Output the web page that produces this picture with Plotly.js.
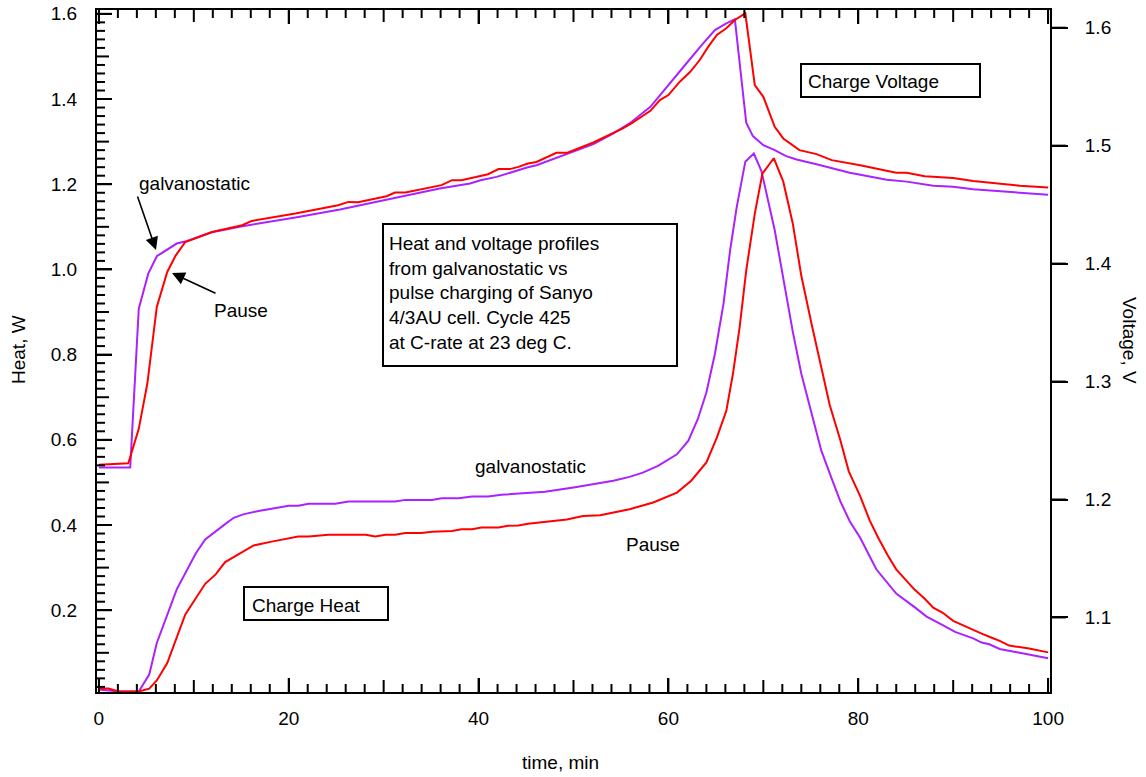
<!DOCTYPE html>
<html>
<head>
<meta charset="utf-8">
<script src="https://cdn.plot.ly/plotly-3.0.1.min.js"></script>
<style>html,body{margin:0;padding:0;background:#fff;}#chart{width:1146px;height:777px;}</style>
</head>
<body>
<div id="chart"></div>
<script>
// ---------------- data ----------------
var galvVoltTime = [0, 3.3, 4.2, 5.2, 6.1, 8.2, 9.3, 11.9, 15.1, 20.7, 25.4, 30.3, 35.9, 39.1, 40.2, 41.9, 43.0, 44.0, 45.1, 46.1, 48.9, 52.1, 54.2, 55.9, 58.1, 59.8, 61.6, 63.5, 64.9, 66.1, 67.0, 68.2, 68.9, 70.0, 71.2, 72.4, 73.5, 75.6, 77.3, 79.1, 83.0, 85.1, 87.9, 90.0, 92.1, 94.9, 97.0, 100];
var galvVolt = [1.2271, 1.2271, 1.3618, 1.3915, 1.4062, 1.4170, 1.4192, 1.4266, 1.4317, 1.4390, 1.4458, 1.4543, 1.4637, 1.4679, 1.4707, 1.4735, 1.4764, 1.4784, 1.4815, 1.4834, 1.4919, 1.5013, 1.5104, 1.5188, 1.5329, 1.5499, 1.5669, 1.5853, 1.5980, 1.6037, 1.6071, 1.5194, 1.5081, 1.5004, 1.4962, 1.4911, 1.4883, 1.4843, 1.4806, 1.4770, 1.4711, 1.4695, 1.4660, 1.4651, 1.4631, 1.4615, 1.4601, 1.4583];

var pauseVoltTime = [0, 3.1, 4.2, 5.1, 6.1, 7.2, 8.1, 9.1, 11.9, 15.1, 16.1, 20.7, 25.2, 26.3, 27.3, 30.3, 31.2, 32.3, 36.1, 37.2, 38.2, 41.0, 42.1, 43.3, 44.2, 45.2, 46.1, 48.2, 49.3, 52.1, 54.2, 55.2, 56.1, 58.1, 59.1, 60.0, 61.2, 62.3, 63.3, 64.2, 65.1, 66.1, 67.0, 68.1, 69.1, 70.0, 71.2, 72.1, 73.8, 75.6, 77.2, 79.1, 80.2, 84.0, 85.1, 87.0, 90.0, 92.1, 94.9, 97.0, 100];
var pauseVolt = [1.2294, 1.2307, 1.2599, 1.2981, 1.3632, 1.3929, 1.4070, 1.4183, 1.4268, 1.4325, 1.4362, 1.4424, 1.4495, 1.4523, 1.4520, 1.4571, 1.4603, 1.4603, 1.4665, 1.4707, 1.4707, 1.4758, 1.4801, 1.4801, 1.4820, 1.4849, 1.4862, 1.4939, 1.4939, 1.5027, 1.5109, 1.5146, 1.5188, 1.5295, 1.5386, 1.5429, 1.5542, 1.5626, 1.5726, 1.5839, 1.5938, 1.5995, 1.6065, 1.6122, 1.5514, 1.5414, 1.5160, 1.5061, 1.4962, 1.4928, 1.4877, 1.4849, 1.4834, 1.4770, 1.4770, 1.4740, 1.4725, 1.4701, 1.4675, 1.4660, 1.4645];

var galvHeatTime = [0, 2.1, 4.2, 5.3, 6.1, 8.2, 10.2, 11.2, 13.3, 14.2, 15.2, 16.8, 20.0, 21.0, 22.1, 24.9, 26.3, 31.2, 32.3, 35.1, 36.1, 37.9, 39.3, 41.0, 42.4, 44.9, 45.9, 47.0, 50.0, 52.1, 54.2, 55.9, 57.3, 58.9, 60.9, 62.1, 63.1, 64.0, 64.9, 65.8, 66.5, 67.2, 68.1, 69.0, 69.8, 71.2, 72.3, 73.1, 74.0, 75.1, 76.1, 77.2, 78.1, 79.1, 80.2, 81.9, 84.0, 86.0, 87.2, 88.9, 90.2, 92.1, 93.0, 93.8, 94.9, 97.0, 100];
var galvHeat = [0.014, 0.009, 0.009, 0.049, 0.123, 0.249, 0.333, 0.366, 0.402, 0.417, 0.425, 0.433, 0.445, 0.445, 0.450, 0.450, 0.455, 0.455, 0.459, 0.459, 0.463, 0.463, 0.467, 0.467, 0.471, 0.475, 0.478, 0.478, 0.488, 0.496, 0.504, 0.513, 0.523, 0.539, 0.566, 0.598, 0.649, 0.711, 0.802, 0.919, 1.045, 1.147, 1.253, 1.272, 1.231, 1.092, 0.952, 0.854, 0.755, 0.657, 0.575, 0.509, 0.456, 0.409, 0.370, 0.296, 0.239, 0.206, 0.185, 0.165, 0.149, 0.134, 0.124, 0.120, 0.109, 0.100, 0.087];

var pauseHeatTime = [0, 1.0, 2.1, 4.2, 5.3, 6.1, 7.2, 9.1, 11.2, 12.3, 13.3, 14.4, 16.3, 18.2, 21.0, 22.1, 24.2, 28.1, 29.1, 30.2, 31.2, 32.3, 34.0, 35.1, 37.2, 38.2, 39.3, 40.3, 42.1, 43.1, 44.2, 45.2, 47.0, 49.3, 51.0, 52.8, 55.9, 58.4, 60.9, 62.4, 64.0, 65.1, 66.1, 66.8, 67.5, 68.2, 69.1, 69.9, 71.1, 72.1, 73.1, 74.0, 75.1, 76.1, 77.0, 78.1, 79.0, 80.2, 81.2, 82.1, 83.1, 84.0, 85.1, 85.9, 87.0, 87.9, 88.9, 90.0, 91.0, 92.1, 93.0, 94.0, 94.9, 95.9, 97.0, 98.0, 100];
var pauseHeat = [0.016, 0.016, 0.009, 0.009, 0.016, 0.035, 0.076, 0.190, 0.262, 0.284, 0.313, 0.327, 0.352, 0.361, 0.373, 0.373, 0.377, 0.377, 0.373, 0.377, 0.377, 0.381, 0.381, 0.384, 0.386, 0.390, 0.390, 0.394, 0.394, 0.398, 0.399, 0.403, 0.407, 0.413, 0.421, 0.423, 0.437, 0.453, 0.476, 0.504, 0.547, 0.605, 0.668, 0.755, 0.864, 0.998, 1.131, 1.225, 1.261, 1.206, 1.108, 0.985, 0.870, 0.772, 0.681, 0.600, 0.526, 0.468, 0.411, 0.370, 0.329, 0.296, 0.268, 0.249, 0.227, 0.206, 0.194, 0.175, 0.165, 0.153, 0.145, 0.136, 0.128, 0.117, 0.114, 0.110, 0.101];

// ---------------- styling ----------------
var FONT = 'Liberation Sans, Arial, sans-serif';
var PURPLE = '#aa22ff';
var RED = '#ff0000';
var PL = 97, PR = 1050, PT = 10, PB = 692;
var PW = PR - PL, PH = PB - PT;
function px(x) { return (x - PL) / PW; }
function py(y) { return (PB - y) / PH; }
var XR = [-0.2, 100.2], YR = [0.008, 1.609], Y2R = [1.0368, 1.615];

var traces = [
  {x: galvVoltTime, y: galvVolt, yaxis: 'y2', mode: 'lines', line: {color: PURPLE, width: 2}},
  {x: pauseVoltTime, y: pauseVolt, yaxis: 'y2', mode: 'lines', line: {color: RED, width: 2}},
  {x: galvHeatTime, y: galvHeat, mode: 'lines', line: {color: PURPLE, width: 2}},
  {x: pauseHeatTime, y: pauseHeat, mode: 'lines', line: {color: RED, width: 2}}
];

function box(x0, y0, x1, y1) {
  return {type: 'rect', xref: 'paper', yref: 'paper', x0: px(x0), x1: px(x1), y0: py(y1), y1: py(y0),
          line: {color: '#000', width: 2}, fillcolor: 'rgba(0,0,0,0)'};
}
function seg(x0, y0, x1, y1) {
  return {type: 'line', xref: 'paper', yref: 'paper', x0: x0, x1: x1, y0: y0, y1: y1, layer: 'above',
          line: {color: '#000', width: 2}};
}
function txt(t, x, y, anchor) {
  return {text: t, xref: 'paper', yref: 'paper', x: px(x), y: py(y), showarrow: false,
          xanchor: anchor || 'center', yanchor: 'middle', font: {family: FONT, size: 19, color: '#000'}};
}
function arrow(hx, hy, tx, ty) {
  return {text: '', xref: 'paper', yref: 'paper', x: px(hx), y: py(hy), ax: tx - hx, ay: ty - hy,
          showarrow: true, arrowhead: 2, arrowsize: 1.6, arrowwidth: 1.6, arrowcolor: '#000', standoff: 0};
}

// tick marks (minor / medium / major) built from the axis ranges
var shapes = [box(801, 64, 980, 97), box(244, 587, 388, 620), box(383, 224, 677, 366)];
for (var i = 0; i <= 50; i++) {
  var t = 2 * i;
  var len = (i % 10 === 0) ? 14 : (i % 5 === 0 ? 12 : 8);
  var fx = (t - XR[0]) / (XR[1] - XR[0]);
  shapes.push(seg(fx, 0, fx, len / PH));
  shapes.push(seg(fx, 1, fx, 1 - len / PH));
}
for (var j = 1; j <= 80; j++) {
  var hv = 0.02 * j;
  var hl = (j % 10 === 0) ? 15 : (j % 5 === 0 ? 12 : 8);
  var fy = (hv - YR[0]) / (YR[1] - YR[0]);
  shapes.push(seg(0, fy, hl / PW, fy));
}
for (var k = 11; k <= 16; k++) {
  var fv = (k / 10 - Y2R[0]) / (Y2R[1] - Y2R[0]);
  shapes.push(seg(1, fv, 1 + 16 / PW, fv));
}

var annotations = [
  txt('galvanostatic', 194, 183),
  arrow(156, 250, 137, 195),
  txt('Pause', 241, 310),
  arrow(172, 273, 217, 294),
  txt('galvanostatic', 530, 466),
  txt('Pause', 653, 544),
  txt('Charge Voltage', 806, 81, 'left'),
  txt('Charge Heat', 250, 605, 'left'),
  {text: 'Heat and voltage profiles<br>from galvanostatic vs<br>pulse charging of Sanyo<br>4/3AU cell. Cycle 425<br>at C-rate at 23 deg C.',
   xref: 'paper', yref: 'paper', x: px(387), y: py(293), xanchor: 'left', yanchor: 'middle', align: 'left',
   showarrow: false, font: {family: FONT, size: 19, color: '#000'}},
  {text: 'time, min', xref: 'paper', yref: 'paper', x: px(560), y: py(763), showarrow: false,
   xanchor: 'center', yanchor: 'middle', font: {family: FONT, size: 19, color: '#000'}},
  {text: 'Heat, W', xref: 'paper', yref: 'paper', x: px(18), y: py(350), showarrow: false, textangle: -90,
   xanchor: 'center', yanchor: 'middle', font: {family: FONT, size: 19, color: '#000'}},
  {text: 'Voltage, V', xref: 'paper', yref: 'paper', x: px(1130), y: py(340), showarrow: false, textangle: 90,
   xanchor: 'center', yanchor: 'middle', font: {family: FONT, size: 19, color: '#000'}}
];

var tickFont = {family: FONT, size: 19, color: '#000'};

var layout = {
  width: 1146, height: 777, autosize: false, showlegend: false,
  margin: {l: PL, r: 1146 - PR, t: PT, b: 777 - PB, pad: 0},
  xaxis: {range: XR, tick0: 0, dtick: 20, ticks: 'inside', ticklen: 14, tickwidth: 2, tickcolor: '#000',
          showline: true, linewidth: 2, linecolor: '#000', mirror: 'ticks', showgrid: false, zeroline: false,
          tickfont: tickFont, ticklabelstandoff: 8},
  yaxis: {range: YR, tick0: 0, dtick: 0.2, ticks: 'inside', ticklen: 15, tickwidth: 2, tickcolor: '#000',
          showline: true, linewidth: 2, linecolor: '#000', mirror: false, showgrid: false, zeroline: false,
          tickformat: '.1f', tickfont: tickFont, ticklabelstandoff: 14},
  yaxis2: {range: Y2R, overlaying: 'y', side: 'right', anchor: 'x', tick0: 0, dtick: 0.1, ticks: 'outside', ticklen: 16,
           tickwidth: 2, tickcolor: '#000', showline: true, linewidth: 2, linecolor: '#000', showgrid: false,
           zeroline: false, tickformat: '.1f', tickfont: tickFont, ticklabelstandoff: 13},
  shapes: shapes,
  annotations: annotations
};

Plotly.newPlot('chart', traces, layout, {displayModeBar: false}).then(function(gd) {
  setTimeout(function() { Plotly.relayout(gd, {shapes: shapes.slice()}); }, 30);
});
</script>
</body>
</html>
